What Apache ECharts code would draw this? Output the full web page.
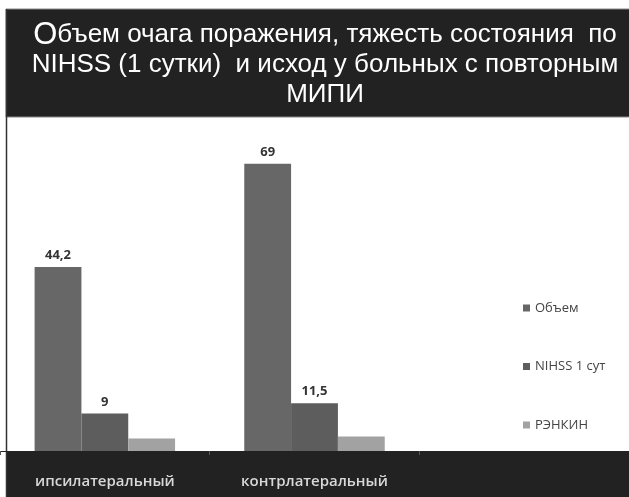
<!DOCTYPE html>
<html>
<head>
<meta charset="utf-8">
<script src="https://cdn.jsdelivr.net/npm/echarts@6/dist/echarts.min.js"></script>
<style>
  html, body { margin: 0; padding: 0; background: #fff; }
  #chart { width: 629px; height: 497px; }
</style>
</head>
<body>
<div id="chart"></div>
<script>
// categories (third slot is empty, as on the original slide)
var categories = ["ипсилатеральный", "контрлатеральный", ""];
var seriesNames = ["Объем", "NIHSS 1 сут", "РЭНКИН"];
var volume = [44.2, 69, "-"];
var nihss = [9, 11.5, "-"];
var rankin = [3, 3.5, "-"];
var colors = ["#676767", "#5d5d5d", "#a2a2a2"];

var chart = echarts.init(document.getElementById("chart"));

function fmt(p) {
    return String(p.value).replace(".", ",");
}

var labelStyle = {
    show: true, position: "top", distance: 5,
    fontFamily: "Open Sans", fontWeight: "bold", fontSize: 13, color: "#333",
    formatter: fmt
};

var option = {
    animation: false,
    backgroundColor: "#fff",
    color: colors,
    graphic: [
        // title box
        {type: "rect", z: -5, shape: {x: 6, y: 9, width: 630, height: 108},
            style: {fill: "#222", stroke: "#888", lineWidth: 1}},
        // bottom band with categories
        {type: "rect", z: -5, shape: {x: 6, y: 451, width: 630, height: 50},
            style: {fill: "#222"}},
        // left border
        {type: "line", z: -4, shape: {x1: 6.5, y1: 9, x2: 6.5, y2: 497},
            style: {stroke: "#333", lineWidth: 1.5}}
    ],
    title: {
        left: 320, textAlign: "center", top: 15,
        text: "{big|О}{t|бъем очага поражения, тяжесть состояния  по}\n{t|NIHSS (1 сутки)  и исход у больных с повторным}\n{t|МИПИ}",
        textStyle: {
            fontWeight: "normal",
            rich: {
                big: {fontFamily: "Liberation Sans", fontSize: 31, fontWeight: "normal", color: "#fff", lineHeight: 30},
                t: {fontFamily: "Liberation Sans", fontSize: 26, fontWeight: "normal", color: "#fff", lineHeight: 30}
            }
        }
    },
    legend: {
        orient: "vertical", left: 518, top: 296,
        itemWidth: 7, itemHeight: 7, itemGap: 44.5,
        icon: "rect",
        textStyle: {fontFamily: "Open Sans", fontSize: 13, color: "#444", lineHeight: 14},
        data: seriesNames
    },
    grid: {left: -2, right: -5, top: 118, bottom: 46},
    xAxis: {
        type: "category", data: categories,
        axisLine: {show: true, lineStyle: {color: "#222", width: 1}},
        axisTick: {show: true, length: 4, lineStyle: {color: "#555"}},
        axisLabel: {
            fontFamily: "Open Sans", fontWeight: 600, fontSize: 15,
            color: "#d8d8d8", margin: 23
        }
    },
    yAxis: {
        type: "value", min: 0, max: 80,
        show: false, splitLine: {show: false}
    },
    series: [
        {name: seriesNames[0], type: "bar", data: volume, barGap: "0%", barCategoryGap: "33%",
            label: labelStyle},
        {name: seriesNames[1], type: "bar", data: nihss, label: labelStyle},
        {name: seriesNames[2], type: "bar", data: rankin}
    ]
};

chart.setOption(option);
</script>
</body>
</html>
